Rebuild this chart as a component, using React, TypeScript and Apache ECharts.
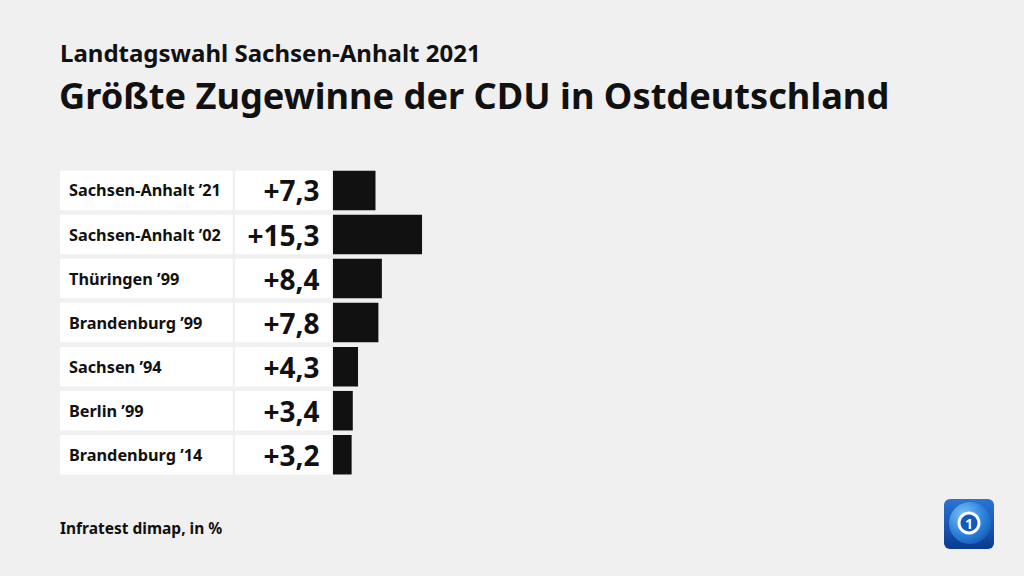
import React, { useEffect, useRef } from "react";
import * as echarts from "echarts";

const categories = [
  "Sachsen-Anhalt ’21",
  "Sachsen-Anhalt ’02",
  "Thüringen ’99",
  "Brandenburg ’99",
  "Sachsen ’94",
  "Berlin ’99",
  "Brandenburg ’14",
];
const values = [7.3, 15.3, 8.4, 7.8, 4.3, 3.4, 3.2];

const subtitle = "Landtagswahl Sachsen-Anhalt 2021";
const title = "Größte Zugewinne der CDU in Ostdeutschland";
const source = "Infratest dimap, in %";

const FONT = "'Noto Sans', sans-serif";

function fmt(v: number): string {
  return (v > 0 ? "+" : "") + v.toFixed(1).replace(".", ",");
}

export default function App() {
  const ref = useRef<HTMLDivElement>(null);
  useEffect(() => {
    if (!ref.current) return;
    const chart = echarts.init(ref.current, undefined, { renderer: "svg" });
    const rowH = 39.5;
    chart.setOption({
      animation: false,
      backgroundColor: "#f0f0f0",
      textStyle: { fontFamily: FONT },
      grid: { left: 333, top: 168.45, height: 308.3, width: 582 },
      xAxis: { type: "value", min: 0, max: 100, show: false },
      yAxis: {
        type: "category",
        inverse: true,
        data: categories,
        axisLine: { show: false },
        axisTick: { show: false },
        splitLine: { show: false },
        axisLabel: {
          margin: 273,
          align: "left",
          verticalAlign: "middle",
          width: 163.7,
          height: rowH,
          lineHeight: rowH,
          padding: [0, 0, 0, 9],
          backgroundColor: "#ffffff",
          color: "#111111",
          fontFamily: FONT,
          fontWeight: "bold",
          fontSize: 16.3,
          overflow: "none",
        },
      },
      series: [
        {
          type: "bar",
          data: values,
          barWidth: rowH,
          itemStyle: { color: "#111111" },
          label: {
            show: true,
            position: "left",
            distance: 1.5,
            formatter: (p: any) => fmt(p.value),
            backgroundColor: "#ffffff",
            width: 84.5,
            height: rowH,
            lineHeight: rowH,
            padding: [0, 12, 0, 0],
            align: "right",
            verticalAlign: "middle",
            color: "#111111",
            fontFamily: FONT,
            fontWeight: "bold",
            fontSize: 28,
          },
        },
      ],
      graphic: [
        {
          type: "text",
          x: 60,
          y: 52.5,
          style: {
            text: subtitle,
            fontFamily: FONT,
            fontWeight: "bold",
            fontSize: 24,
            fill: "#111111",
            verticalAlign: "middle",
          },
        },
        {
          type: "text",
          x: 59,
          y: 94.5,
          style: {
            text: title,
            fontFamily: FONT,
            fontWeight: "bold",
            fontSize: 36.2,
            fill: "#111111",
            verticalAlign: "middle",
          },
        },
        {
          type: "text",
          x: 60,
          y: 528,
          style: {
            text: source,
            fontFamily: FONT,
            fontWeight: "bold",
            fontSize: 15.5,
            fill: "#111111",
            verticalAlign: "middle",
          },
        },
        {
          type: "group",
          x: 944,
          y: 499,
          children: [
            {
              type: "rect",
              shape: { x: 0, y: 0, width: 50, height: 50, r: 6 },
              style: {
                fill: new echarts.graphic.LinearGradient(0, 0, 0, 1, [
                  { offset: 0, color: "#2b74d6" },
                  { offset: 1, color: "#0a3b8f" },
                ]),
              },
            },
            {
              type: "circle",
              shape: { cx: 26, cy: 24, r: 21 },
              style: {
                fill: new echarts.graphic.RadialGradient(0.35, 0.3, 0.9, [
                  { offset: 0, color: "#7fc0f5" },
                  { offset: 0.5, color: "#2f86de" },
                  { offset: 1, color: "#0d4aa8" },
                ]),
              },
            },
            {
              type: "circle",
              shape: { cx: 25, cy: 24, r: 11.5 },
              style: { fill: "#ffffff" },
            },
            {
              type: "circle",
              shape: { cx: 25, cy: 24, r: 8.5 },
              style: { fill: "#1558b8" },
            },
            {
              type: "text",
              x: 25,
              y: 24.5,
              style: {
                text: "1",
                fontFamily: FONT,
                fontWeight: "bold",
                fontSize: 14,
                fill: "#ffffff",
                align: "center",
                verticalAlign: "middle",
              },
            },
          ],
        },
      ],
    });
    return () => chart.dispose();
  }, []);
  return (
    <div
      ref={ref}
      style={{ position: "fixed", left: 0, top: 0, width: 1024, height: 576 }}
    />
  );
}
